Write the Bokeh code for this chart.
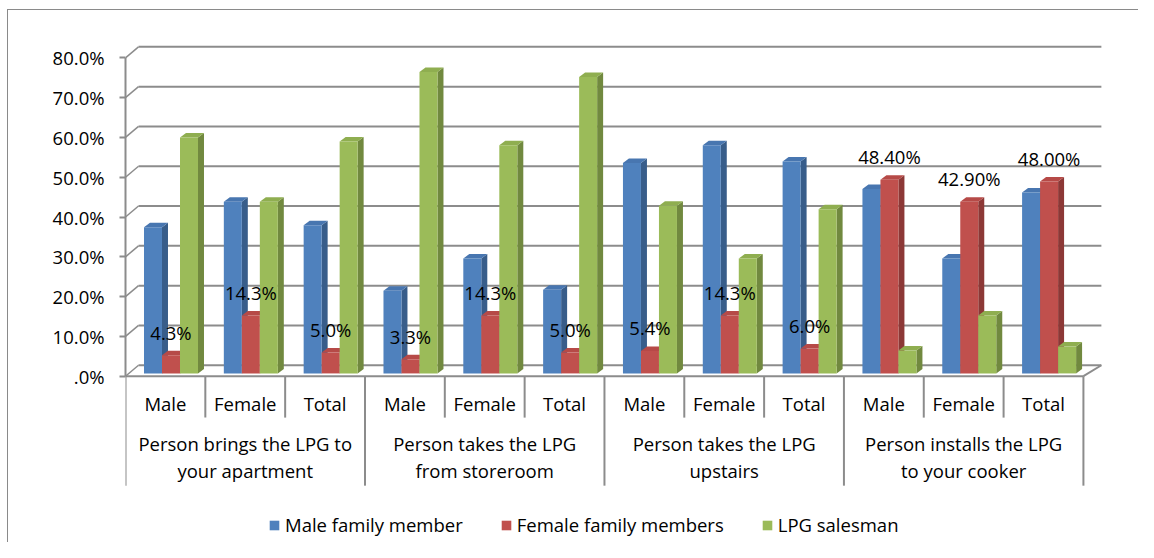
from bokeh.plotting import figure
from bokeh.models import Range1d, LinearAxis, FixedTicker, Legend, LegendItem
from bokeh.core.properties import value
from bokeh.embed import file_html
from bokeh.resources import INLINE

# ---------------- data ----------------
groups = ["Person brings the LPG to\nyour apartment",
          "Person takes the LPG\nfrom storeroom",
          "Person takes the LPG\nupstairs",
          "Person installs the LPG\nto your cooker"]
subgroups = ["Male", "Female", "Total"]
series_names = ["Male family member", "Female family members", "LPG salesman"]

male_family = [36.5, 42.9, 37.0, 20.5, 28.6, 20.8, 52.6, 57.1, 53.0, 46.1, 28.6, 45.2]
female_family = [4.3, 14.3, 5.0, 3.3, 14.3, 5.0, 5.4, 14.3, 6.0, 48.4, 42.9, 48.0]
lpg_salesman = [59.0, 42.9, 58.0, 75.5, 57.1, 74.2, 41.9, 28.6, 41.0, 5.5, 14.3, 6.5]
female_labels = ["4.3%", "14.3%", "5.0%", "3.3%", "14.3%", "5.0%",
                 "5.4%", "14.3%", "6.0%", "48.40%", "42.90%", "48.00%"]

y_ticks = [0, 10, 20, 30, 40, 50, 60, 70, 80]
y_tick_labels = [".0%", "10.0%", "20.0%", "30.0%", "40.0%", "50.0%", "60.0%", "70.0%", "80.0%"]

# ---------------- style ----------------
FONT = "Open Sans"
FS = "18.5px"
GRID = "#8c8c8c"
BORDER = "#8a8a8a"
front_cols = ["#4F81BD", "#C0504D", "#9BBB59"]
side_cols = ["#385D8A", "#8C3836", "#71893F"]
top_cols = ["#4876B0", "#B64A47", "#8FAE50"]

n = len(male_family)
x_cat = list(range(n))

bar_w = 0.2255          # one bar, in category units
clus_c = 0.57           # cluster centre inside a category
dx, dy = 0.075, 1.13    # 3D side/top offset (data units)
base = 0.7              # bar floor
lift = 0.95             # depth shift of bar top
wall_dx, wall_dy = 0.163, 2.76   # back wall offset
wall_dx_r = 0.225

p = figure(width=1138, height=542,
           x_range=Range1d(0, 12.69), y_range=Range1d(-41.78, 94.4),
           output_backend="svg", toolbar_location=None,
           x_axis_type=None, y_axis_type=None,
           min_border_left=125, min_border_right=0,
           min_border_top=0, min_border_bottom=0)
p.outline_line_color = None
p.background_fill_color = None
p.border_fill_color = None
# outer chart-area border: only its top and left edges fall inside the picture
p.styles = {
    "background-color": "white",
    "background-image": f"linear-gradient({BORDER}, {BORDER}), linear-gradient({BORDER}, {BORDER})",
    "background-size": "1px 100%, 100% 1px",
    "background-position": "7px 9px, 7px 9px",
    "background-repeat": "no-repeat",
}

# y axis (front)
yaxis = LinearAxis(ticker=FixedTicker(ticks=y_ticks), bounds=(0, 80),
                   major_label_overrides={t: l for t, l in zip(y_ticks, y_tick_labels)},
                   axis_line_color=GRID, axis_line_width=2,
                   major_tick_out=6, major_tick_in=0,
                   major_tick_line_color=GRID, major_tick_line_width=2,
                   minor_tick_line_color=None,
                   major_label_standoff=15,
                   major_label_text_font=FONT, major_label_text_font_size=FS,
                   major_label_text_color="black")
p.add_layout(yaxis, "left")

# back wall gridlines + left wall diagonals
nc = len(x_cat)
p.segment(x0=[wall_dx] * len(y_ticks), y0=[t + wall_dy for t in y_ticks],
          x1=[nc + wall_dx_r] * len(y_ticks), y1=[t + wall_dy for t in y_ticks],
          line_color=GRID, line_width=2)
p.segment(x0=[0] * len(y_ticks), y0=y_ticks,
          x1=[wall_dx] * len(y_ticks), y1=[t + wall_dy for t in y_ticks],
          line_color=GRID, line_width=1.5)
# floor front edge and right diagonal
p.segment(x0=[0, nc], y0=[0, 0], x1=[nc, nc + wall_dx_r], y1=[0, wall_dy],
          line_color=GRID, line_width=2)

# bars with 3D faces
series = [male_family, female_family, lpg_salesman]
renderers = []
for s, vals in enumerate(series):
    xc = [i + clus_c + (s - 1) * bar_w for i in x_cat]
    xl = [x - bar_w / 2 for x in xc]
    xr = [x + bar_w / 2 for x in xc]
    tops = [v + lift for v in vals]
    side_xs = [[r, r + dx, r + dx, r] for r in xr]
    side_ys = [[base, base + dy, t + dy, t] for t in tops]
    p.patches(side_xs, side_ys, fill_color=side_cols[s], line_color=None)
    top_xs = [[l, l + dx, r + dx, r] for l, r in zip(xl, xr)]
    top_ys = [[t, t + dy, t + dy, t] for t in tops]
    p.patches(top_xs, top_ys, fill_color=top_cols[s], line_color=None)
    r = p.vbar(x=xc, width=bar_w, bottom=base, top=tops,
               fill_color=front_cols[s], line_color=None)
    renderers.append(r)

TXT = dict(text_font=value(FONT), text_font_size=value(FS), text_color="black",
           text_align="center", text_baseline="middle")

# data labels for female family members
p.text(x=[i + clus_c for i in x_cat], y=female_family, text=female_labels,
       y_offset=-27, **TXT)

# category axis separators
short_x = [i for i in range(nc + 1) if i % 3 != 0]
long_x = [i for i in range(nc + 1) if i % 3 == 0]
p.segment(x0=short_x, y0=[0] * len(short_x), x1=short_x, y1=[-10.4] * len(short_x),
          line_color=GRID, line_width=2)
p.segment(x0=long_x, y0=[0] * len(long_x), x1=long_x, y1=[-27.5] * len(long_x),
          line_color=GRID, line_width=2)

# category labels
p.text(x=[i + 0.5 for i in x_cat], y=[-6.9] * n, text=subgroups * len(groups), **TXT)
g_lines = [g.split("\n") for g in groups]
gx = [3 * g + 1.5 for g in range(len(groups))]
p.text(x=gx, y=[-17.0] * len(groups), text=[l[0] for l in g_lines], **TXT)
p.text(x=gx, y=[-23.6] * len(groups), text=[l[1] for l in g_lines], **TXT)

# legend
legend = Legend(items=[LegendItem(label=nm, renderers=[r]) for nm, r in zip(series_names, renderers)],
                orientation="horizontal", location=(143, 5),
                glyph_width=12, glyph_height=12, label_standoff=5, spacing=37,
                padding=0, margin=0, border_line_color=None, background_fill_alpha=0,
                label_text_font=FONT, label_text_font_size=FS, label_text_color="black")
p.add_layout(legend, "center")

open("out.html", "w").write(file_html(p, INLINE))
